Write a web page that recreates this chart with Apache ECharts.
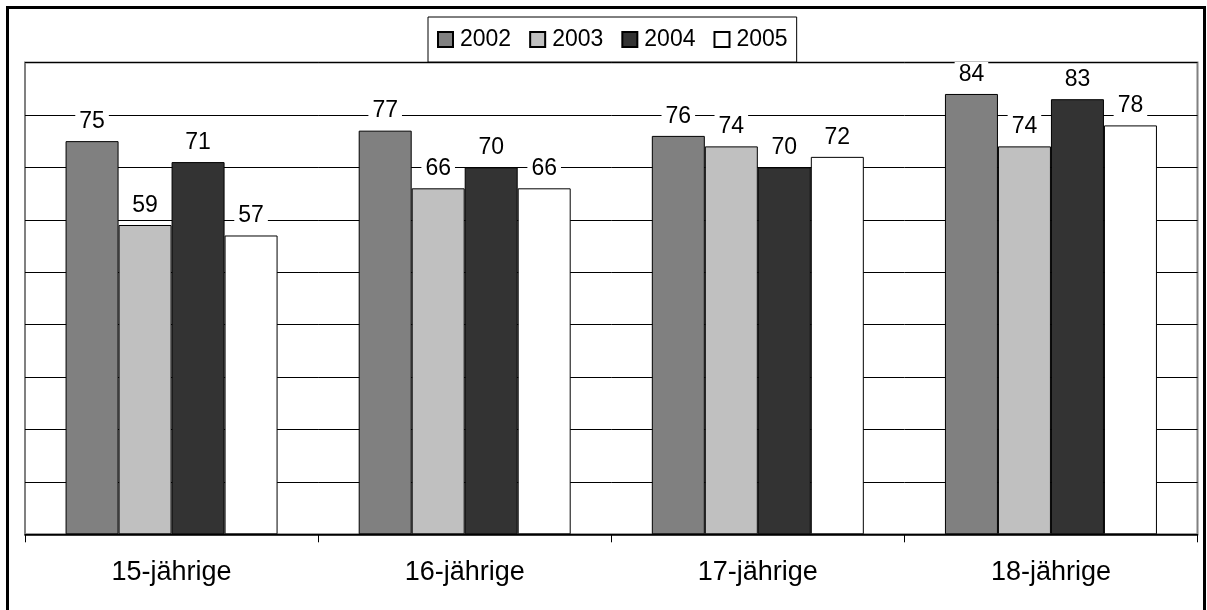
<!DOCTYPE html>
<html>
<head>
<meta charset="utf-8">
<script src="https://cdn.jsdelivr.net/npm/echarts@6/dist/echarts.min.js"></script>
<style>
  html, body { margin: 0; padding: 0; background: #fff; }
  #chart { width: 1207px; height: 610px; }
</style>
</head>
<body>
<div id="chart"></div>
<script>
// Age groups along the x axis
const categories = ['15-jährige', '16-jährige', '17-jährige', '18-jährige'];

// Values per survey year
const years = ['2002', '2003', '2004', '2005'];
const values2002 = [75, 77, 76, 84];
const values2003 = [59, 66, 74, 74];
const values2004 = [71, 70, 70, 83];
const values2005 = [57, 66, 72, 78];

// Value axis range
const yMin = 0;
const yMax = 90;
const yStep = 10;

const seriesValues = [values2002, values2003, values2004, values2005];
const fills = ['#808080', '#C0C0C0', '#333333', '#FFFFFF'];
const FONT = 'Liberation Sans, Arial, sans-serif';

const chart = echarts.init(document.getElementById('chart'), null, { renderer: 'canvas' });

chart.setOption({
  animation: false,
  backgroundColor: '#fff',
  graphic: [{
    type: 'rect',
    shape: { x: 7.5, y: 7.5, width: 1197, height: 612 },
    style: { fill: 'none', stroke: '#000', lineWidth: 3 },
    z: 100
  }],
  legend: {
    data: years,
    left: 428,
    top: 17,
    padding: [11, 9, 11, 9],
    itemWidth: 15,
    itemHeight: 15,
    itemGap: 18,
    icon: 'rect',
    borderColor: '#000',
    borderWidth: 1,
    backgroundColor: '#fff',
    textStyle: { fontFamily: FONT, fontSize: 23, color: '#000', padding: [0, 0, 0, 2] }
  },
  grid: {
    left: 25,
    right: 9.5,
    top: 62.5,
    bottom: 75.7,
    show: true,
    borderColor: '#808080',
    borderWidth: 2,
    containLabel: false
  },
  xAxis: {
    type: 'category',
    data: categories,
    axisLine: { lineStyle: { color: '#000', width: 1.5 } },
    axisTick: { show: true, length: 8, lineStyle: { color: '#000', width: 1 } },
    axisLabel: { fontFamily: FONT, fontSize: 27, color: '#000', margin: 25 },
    splitLine: { show: false }
  },
  yAxis: {
    type: 'value',
    min: yMin,
    max: yMax,
    interval: yStep,
    axisLine: { show: false },
    axisTick: { show: false },
    axisLabel: { show: false },
    splitLine: { lineStyle: { color: '#000', width: 1 } }
  },
  series: years.map((name, i) => ({
    name: name,
    type: 'bar',
    data: seriesValues[i],
    barWidth: 53,
    barGap: '0%',
    itemStyle: { color: fills[i], borderColor: '#000', borderWidth: 1 },
    label: {
      show: true,
      position: 'top',
      distance: 7,
      fontFamily: FONT,
      fontSize: 23,
      color: '#000',
      backgroundColor: '#fff',
      padding: [1, 4, 1, 4]
    }
  }))
});
</script>
</body>
</html>
